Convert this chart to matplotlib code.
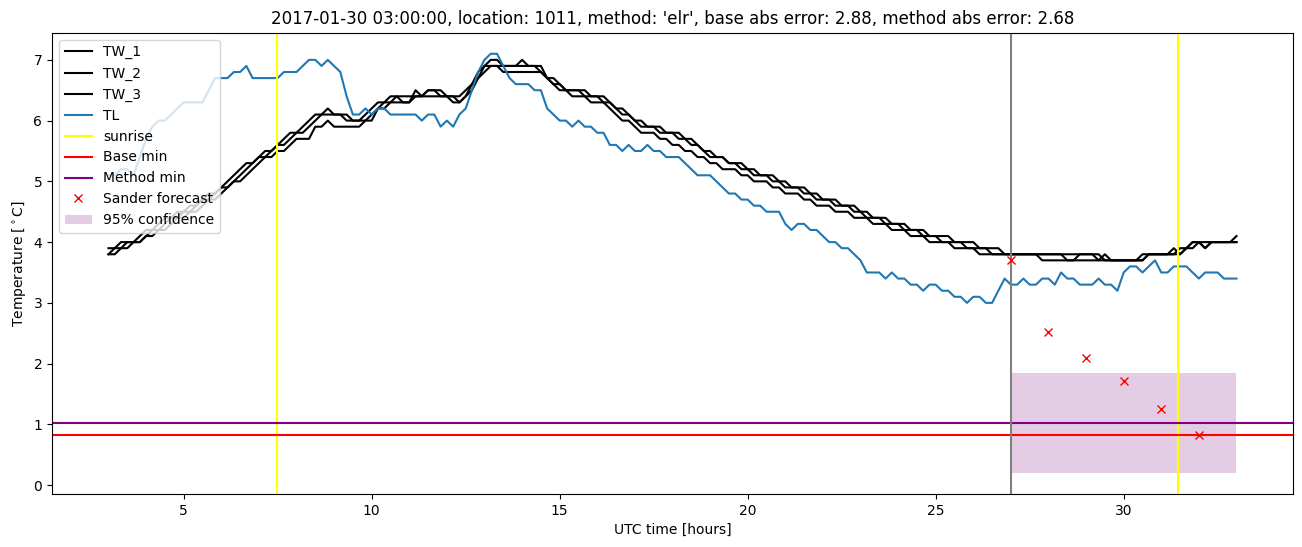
import numpy as np
import matplotlib.pyplot as plt

# time axis: 10 minute samples from 03:00 to 33:00 UTC
t_start = 3.0
t_step = 1 / 6

tw_1 = [3.9, 3.9, 4.0, 4.0, 4.0, 4.1, 4.2, 4.2, 4.3, 4.4,
        4.4, 4.5, 4.5, 4.6, 4.6, 4.7, 4.8, 4.8, 4.9, 5.0,
        5.1, 5.2, 5.3, 5.3, 5.4, 5.5, 5.5, 5.6, 5.7, 5.8,
        5.8, 5.9, 6.0, 6.1, 6.1, 6.2, 6.1, 6.1, 6.1, 6.0,
        6.0, 6.1, 6.2, 6.3, 6.3, 6.4, 6.4, 6.3, 6.3, 6.5,
        6.4, 6.5, 6.5, 6.4, 6.4, 6.4, 6.4, 6.5, 6.6, 6.8,
        6.9, 7.0, 7.0, 6.9, 6.9, 6.9, 7.0, 6.9, 6.9, 6.9,
        6.7, 6.6, 6.6, 6.5, 6.5, 6.5, 6.5, 6.4, 6.4, 6.4,
        6.3, 6.2, 6.2, 6.1, 6.0, 6.0, 5.9, 5.9, 5.9, 5.8,
        5.8, 5.8, 5.7, 5.7, 5.6, 5.5, 5.5, 5.4, 5.4, 5.3,
        5.3, 5.3, 5.2, 5.2, 5.1, 5.1, 5.1, 5.0, 5.0, 4.9,
        4.9, 4.9, 4.8, 4.8, 4.7, 4.7, 4.7, 4.6, 4.6, 4.6,
        4.5, 4.5, 4.4, 4.4, 4.4, 4.3, 4.3, 4.3, 4.2, 4.2,
        4.2, 4.1, 4.1, 4.1, 4.1, 4.0, 4.0, 4.0, 4.0, 3.9,
        3.9, 3.9, 3.9, 3.8, 3.8, 3.8, 3.8, 3.8, 3.8, 3.8,
        3.8, 3.8, 3.8, 3.8, 3.8, 3.8, 3.8, 3.8, 3.8, 3.7,
        3.7, 3.7, 3.7, 3.7, 3.7, 3.8, 3.8, 3.8, 3.8, 3.8,
        3.8, 3.9, 3.9, 4.0, 4.0, 4.0, 4.0, 4.0, 4.0, 4.0,
        4.1]

tw_2 = [3.8, 3.9, 3.9, 4.0, 4.0, 4.0, 4.1, 4.2, 4.2, 4.3,
        4.4, 4.4, 4.5, 4.5, 4.6, 4.7, 4.7, 4.8, 4.9, 4.9,
        5.0, 5.1, 5.2, 5.3, 5.4, 5.4, 5.5, 5.6, 5.6, 5.7,
        5.8, 5.8, 5.9, 6.0, 6.1, 6.1, 6.1, 6.1, 6.0, 6.0,
        6.0, 6.0, 6.1, 6.2, 6.3, 6.3, 6.4, 6.4, 6.4, 6.4,
        6.4, 6.5, 6.5, 6.5, 6.4, 6.4, 6.3, 6.4, 6.6, 6.7,
        6.9, 6.9, 6.9, 6.9, 6.9, 6.9, 6.9, 6.9, 6.9, 6.8,
        6.7, 6.7, 6.6, 6.5, 6.5, 6.5, 6.4, 6.4, 6.4, 6.3,
        6.3, 6.2, 6.1, 6.1, 6.0, 5.9, 5.9, 5.9, 5.8, 5.8,
        5.8, 5.7, 5.7, 5.6, 5.6, 5.5, 5.4, 5.4, 5.4, 5.3,
        5.3, 5.2, 5.2, 5.1, 5.1, 5.1, 5.0, 5.0, 4.9, 4.9,
        4.9, 4.8, 4.8, 4.7, 4.7, 4.7, 4.6, 4.6, 4.6, 4.5,
        4.5, 4.4, 4.4, 4.4, 4.3, 4.3, 4.3, 4.2, 4.2, 4.2,
        4.1, 4.1, 4.1, 4.0, 4.0, 4.0, 4.0, 3.9, 3.9, 3.9,
        3.9, 3.8, 3.8, 3.8, 3.8, 3.8, 3.8, 3.8, 3.8, 3.7,
        3.7, 3.7, 3.7, 3.7, 3.7, 3.8, 3.8, 3.8, 3.7, 3.7,
        3.7, 3.7, 3.7, 3.7, 3.7, 3.7, 3.8, 3.8, 3.8, 3.8,
        3.8, 3.8, 3.9, 3.9, 4.0, 3.9, 4.0, 4.0, 4.0, 4.0,
        4.0]

tw_3 = [3.8, 3.8, 3.9, 3.9, 4.0, 4.0, 4.1, 4.1, 4.2, 4.2,
        4.3, 4.4, 4.4, 4.5, 4.5, 4.6, 4.7, 4.7, 4.8, 4.9,
        5.0, 5.0, 5.1, 5.2, 5.3, 5.4, 5.4, 5.5, 5.5, 5.6,
        5.7, 5.7, 5.7, 5.9, 5.9, 6.0, 5.9, 5.9, 5.9, 5.9,
        5.9, 6.0, 6.0, 6.2, 6.2, 6.3, 6.3, 6.3, 6.3, 6.4,
        6.4, 6.4, 6.4, 6.4, 6.4, 6.3, 6.3, 6.4, 6.5, 6.7,
        6.8, 6.9, 6.9, 6.8, 6.8, 6.8, 6.8, 6.8, 6.8, 6.8,
        6.7, 6.6, 6.5, 6.5, 6.4, 6.4, 6.4, 6.3, 6.3, 6.3,
        6.2, 6.1, 6.0, 6.0, 5.9, 5.8, 5.8, 5.8, 5.7, 5.7,
        5.6, 5.6, 5.5, 5.5, 5.4, 5.4, 5.3, 5.3, 5.2, 5.2,
        5.2, 5.1, 5.1, 5.0, 5.0, 5.0, 4.9, 4.9, 4.8, 4.8,
        4.8, 4.7, 4.7, 4.6, 4.6, 4.6, 4.5, 4.5, 4.5, 4.4,
        4.4, 4.4, 4.3, 4.3, 4.3, 4.2, 4.2, 4.2, 4.1, 4.1,
        4.1, 4.0, 4.0, 4.0, 4.0, 3.9, 3.9, 3.9, 3.9, 3.8,
        3.8, 3.8, 3.8, 3.8, 3.8, 3.8, 3.8, 3.8, 3.8, 3.8,
        3.8, 3.8, 3.8, 3.7, 3.7, 3.7, 3.7, 3.7, 3.7, 3.8,
        3.7, 3.7, 3.7, 3.7, 3.7, 3.7, 3.8, 3.8, 3.8, 3.8,
        3.9, 3.8, 3.9, 4.0, 4.0, 3.9, 4.0, 4.0, 4.0, 4.0,
        4.0]

tl = [5.1, 5.1, 5.2, 5.2, 5.1, 5.4, 5.7, 5.9, 6.0, 6.0,
      6.1, 6.2, 6.3, 6.3, 6.3, 6.3, 6.5, 6.7, 6.7, 6.7,
      6.8, 6.8, 6.9, 6.7, 6.7, 6.7, 6.7, 6.7, 6.8, 6.8,
      6.8, 6.9, 7.0, 7.0, 6.9, 7.0, 6.9, 6.8, 6.4, 6.1,
      6.1, 6.2, 6.1, 6.2, 6.2, 6.1, 6.1, 6.1, 6.1, 6.1,
      6.0, 6.1, 6.1, 5.9, 6.0, 5.9, 6.1, 6.2, 6.5, 6.8,
      7.0, 7.1, 7.1, 6.9, 6.7, 6.6, 6.6, 6.6, 6.5, 6.5,
      6.2, 6.1, 6.0, 6.0, 5.9, 6.0, 5.9, 5.9, 5.8, 5.8,
      5.6, 5.6, 5.5, 5.6, 5.5, 5.5, 5.6, 5.5, 5.5, 5.4,
      5.4, 5.4, 5.3, 5.2, 5.1, 5.1, 5.1, 5.0, 4.9, 4.8,
      4.8, 4.7, 4.7, 4.6, 4.6, 4.5, 4.5, 4.5, 4.3, 4.2,
      4.3, 4.3, 4.2, 4.2, 4.1, 4.0, 4.0, 3.9, 3.9, 3.8,
      3.7, 3.5, 3.5, 3.5, 3.4, 3.5, 3.4, 3.4, 3.3, 3.3,
      3.2, 3.3, 3.3, 3.2, 3.2, 3.1, 3.1, 3.0, 3.1, 3.1,
      3.0, 3.0, 3.2, 3.4, 3.3, 3.3, 3.4, 3.3, 3.3, 3.4,
      3.4, 3.3, 3.5, 3.4, 3.4, 3.3, 3.3, 3.3, 3.4, 3.3,
      3.3, 3.2, 3.5, 3.6, 3.6, 3.5, 3.6, 3.7, 3.5, 3.5,
      3.6, 3.6, 3.6, 3.5, 3.4, 3.5, 3.5, 3.5, 3.4, 3.4,
      3.4]

sunrise_hours = [7.47, 31.45]
forecast_start = 27.0
base_min = 0.82
method_min = 1.03
forecast_hours = [27, 28, 29, 30, 31, 32]
forecast_temp = [3.7, 2.52, 2.1, 1.72, 1.25, 0.82]
conf_hours = [27, 33]
conf_low = [0.2, 0.2]
conf_high = [1.85, 1.85]

hours = t_start + t_step * np.arange(len(tl))

fig = plt.figure(figsize=(13.02, 5.47), dpi=100)
ax = fig.add_subplot(111)
fig.subplots_adjust(left=0.040, right=0.993, bottom=0.097, top=0.940)

ax.plot(hours, tw_1, color='black', label='TW_1')
ax.plot(hours, tw_2, color='black', label='TW_2')
ax.plot(hours, tw_3, color='black', label='TW_3')
ax.plot(hours, tl, label='TL')
ax.axvline(sunrise_hours[0], color='yellow', label='sunrise')
ax.axvline(sunrise_hours[1], color='yellow')
ax.axhline(base_min, color='red', label='Base min')
ax.axhline(method_min, color='purple', label='Method min')
ax.axvline(forecast_start, color='grey')
ax.plot(forecast_hours, forecast_temp, 'x', color='red', label='Sander forecast')
ax.fill_between(conf_hours, conf_low, conf_high, color='purple', alpha=0.2,
                linewidth=0, label='95% confidence')

ax.set_xlabel('UTC time [hours]')
ax.set_ylabel(r'Temperature [$^\circ$C]')
ax.set_title("2017-01-30 03:00:00, location: 1011, method: 'elr', "
             "base abs error: 2.88, method abs error: 2.68")
ax.legend(loc='upper left')

plt.savefig('out.png')
